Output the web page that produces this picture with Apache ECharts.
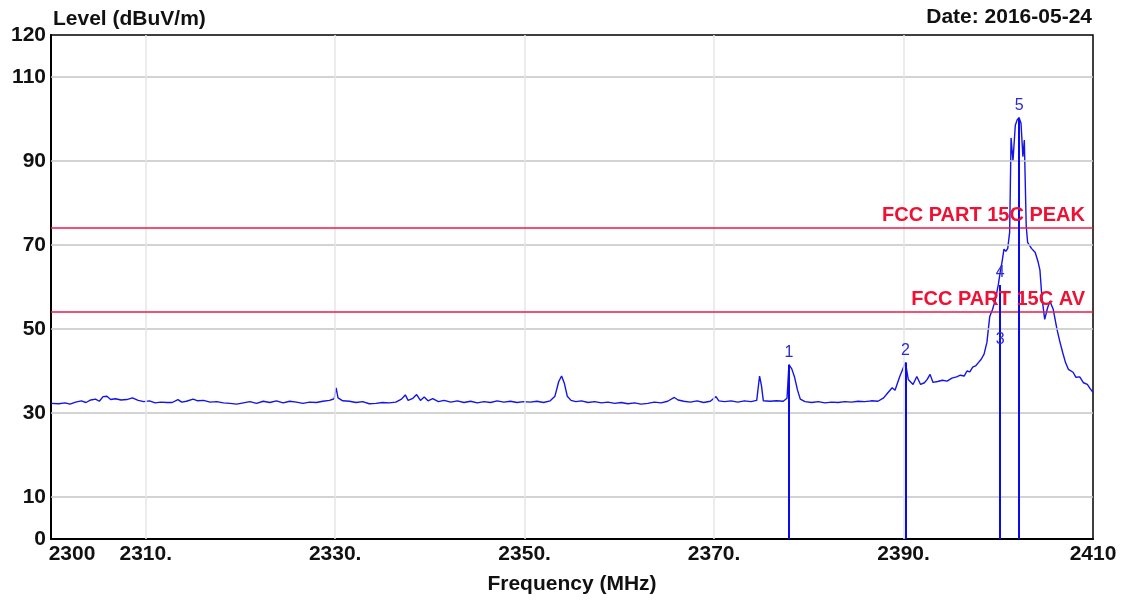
<!DOCTYPE html>
<html>
<head>
<meta charset="utf-8">
<script src="https://cdn.jsdelivr.net/npm/echarts@6/dist/echarts.min.js"></script>
<style>
html,body{margin:0;padding:0;background:#fff;}
#chart{width:1121px;height:600px;}
</style>
</head>
<body>
<div id="chart"></div>
<script>
// Spectrum trace (MHz, dBuV/m)
const freq = [
2300.0,2300.8,2301.5,2302.0,2302.6,2303.2,2303.7,2304.2,2304.7,2305.1,2305.5,2305.9,2306.3,2306.8,2307.4,2308.0,2308.6,2309.2,2309.8,2310.4,
2311.0,2311.6,2312.2,2312.8,2313.4,2313.8,2314.3,2315.0,2315.5,2316.1,2316.8,2317.5,2318.2,2318.9,2319.6,2320.3,2321.0,2321.7,2322.4,2323.1,
2323.8,2324.5,2325.2,2325.9,2326.6,2327.3,2328.0,2328.7,2329.4,2329.9,2330.1,2330.3,2330.8,2331.5,2332.2,2332.9,2333.6,2334.3,2335.0,2335.7,
2336.4,2337.0,2337.4,2337.7,2338.2,2338.6,2339.0,2339.4,2339.8,2340.3,2340.9,2341.5,2342.2,2342.9,2343.6,2344.3,2345.0,2345.7,2346.4,2347.1,
2347.8,2348.5,2349.2,2349.9,2350.6,2351.3,2352.0,2352.7,2353.2,2353.6,2353.9,2354.2,2354.5,2354.9,2355.4,2356.0,2356.7,2357.4,2358.1,2358.8,
2359.5,2360.2,2360.9,2361.6,2362.3,2363.0,2363.7,2364.4,2365.1,2365.8,2366.2,2366.8,2367.5,2368.2,2368.9,2369.6,2370.2,2370.5,2371.1,2371.8,
2372.5,2373.2,2373.9,2374.5,2374.8,2375.0,2375.2,2375.9,2376.6,2377.3,2377.7,2377.9,2378.2,2378.5,2378.8,2379.1,2379.6,2380.3,2381.0,2381.7,
2382.4,2383.1,2383.8,2384.5,2385.2,2385.9,2386.6,2387.3,2387.9,2388.3,2388.8,2389.1,2389.6,2390.2,2390.5,2391.0,2391.4,2391.8,2392.2,2392.5,
2392.8,2393.1,2393.6,2394.1,2394.6,2395.1,2395.6,2396.0,2396.4,2396.7,2397.0,2397.3,2397.6,2397.9,2398.2,2398.5,2398.8,2399.1,2399.4,2399.7,
2400.0,2400.2,2400.4,2400.6,2400.8,2401.0,2401.2,2401.35,2401.55,2401.8,2402.0,2402.2,2402.4,2402.6,2402.75,2402.95,2403.1,2403.5,2403.9,2404.2,
2404.4,2404.6,2404.9,2405.2,2405.45,2405.8,2406.2,2406.5,2406.8,2407.1,2407.4,2407.9,2408.2,2408.6,2409.0,2409.4,2409.7,2410.0
];
const level = [
32.3,32.2,32.4,32.1,32.6,32.9,32.5,33.1,33.3,32.8,33.9,34.0,33.2,33.4,33.1,33.2,33.6,33.0,32.7,32.9,
32.4,32.6,32.5,32.5,33.2,32.6,32.8,33.3,32.9,33.0,32.6,32.7,32.4,32.3,32.1,32.4,32.7,32.3,32.8,32.5,
32.9,32.4,32.8,32.6,32.3,32.6,32.5,32.8,33.0,33.4,36.0,33.6,32.9,32.8,32.5,32.7,32.2,32.3,32.5,32.4,
32.6,33.3,34.3,33.0,33.5,34.4,33.0,33.8,32.9,33.4,32.7,33.0,32.6,32.9,32.5,32.8,32.4,32.7,32.5,32.9,
32.6,32.8,32.5,32.7,32.6,32.8,32.5,32.9,34.0,37.5,38.8,37.0,34.0,33.0,32.7,32.9,32.5,32.7,32.4,32.6,
32.3,32.5,32.2,32.4,32.1,32.3,32.6,32.4,32.8,33.7,33.1,32.8,32.6,32.9,32.5,32.8,33.9,32.9,32.7,32.9,
32.6,32.9,32.7,33.0,38.8,36.5,32.9,32.8,32.9,32.8,33.5,41.5,40.5,38.5,35.5,33.3,32.7,32.5,32.7,32.4,
32.6,32.5,32.7,32.6,32.8,32.7,32.9,32.8,33.6,34.7,36.0,35.4,38.7,42.0,38.0,36.8,38.7,36.8,37.2,38.0,
39.2,37.3,37.5,37.8,37.6,38.3,38.6,39.0,38.8,40.0,39.8,40.9,41.2,42.0,42.8,44.0,46.8,53.0,54.7,57.0,
60.5,63.5,66.0,69.0,68.5,69.2,73.0,95.5,90.0,98.5,99.8,100.3,99.0,91.0,95.0,74.5,70.6,69.2,68.2,66.0,
64.0,57.7,52.3,55.0,56.6,54.7,49.9,47.0,44.4,42.0,40.4,39.7,38.5,38.6,37.2,36.8,35.8,34.9
];

// Markers
const markerNames = ['1','2','3','4','5'];
const markerFreq = [2377.9, 2390.2, 2400.2, 2400.2, 2402.2];
const markerLevel = [41.5, 42.0, 44.7, 60.5, 100.3];

// Limit lines
const limitNames = ['FCC PART 15C PEAK', 'FCC PART 15C AV'];
const limitValues = [74, 54];

// Axis ticks & grid
const xTickValues = [2300, 2310, 2330, 2350, 2370, 2390, 2410];
const xTickTexts = ['2300', '2310.', '2330.', '2350.', '2370.', '2390.', '2410'];
const yTickValues = [0, 10, 30, 50, 70, 90, 110, 120];
const yGridValues = [10, 30, 50, 70, 90, 110];
const xGridValues = [2310, 2330, 2350, 2370, 2390];

const FONT = '"Liberation Sans", Arial, sans-serif';

const chart = echarts.init(document.getElementById('chart'), null, {renderer: 'canvas'});

const traceData = freq.map((f, i) => [f, level[i]]);

const markerLines = markerNames.map((n, i) => [
  {coord: [markerFreq[i], 0], name: n},
  {coord: [markerFreq[i], markerLevel[i]]}
]);

const limitLines = limitNames.map((n, i) => ({yAxis: limitValues[i], name: n}));

const gridLinesH = yGridValues.map(v => ({yAxis: v}));
const gridLinesV = xGridValues.map(v => ({xAxis: v}));

chart.setOption({
  backgroundColor: '#ffffff',
  animation: false,
  title: [
    {text: 'Level (dBuV/m)', left: 48, top: 4,
     textStyle: {fontFamily: FONT, fontWeight: 'bold', fontSize: 21, color: '#111'}},
    {text: 'Date: 2016-05-24', right: 24, top: 2,
     textStyle: {fontFamily: FONT, fontWeight: 'bold', fontSize: 21, color: '#111'}}
  ],
  grid: {left: 51, right: 28, top: 35, bottom: 60, show: true,
         borderColor: '#000', borderWidth: 1.5, backgroundColor: 'transparent'},
  xAxis: {
    type: 'value', min: 2300, max: 2410, interval: 10,
    name: 'Frequency (MHz)', nameLocation: 'middle', nameGap: 35,
    nameTextStyle: {fontFamily: FONT, fontWeight: 'bold', fontSize: 21, color: '#111'},
    axisLine: {show: true, lineStyle: {color: '#000', width: 2}},
    axisTick: {show: false},
    splitLine: {show: false},
    axisLabel: {
      margin: 5, fontFamily: FONT, fontWeight: 'bold', fontSize: 21, color: '#111',
      formatter: function (v) {
        const idx = xTickValues.indexOf(Math.round(v));
        if (idx < 0) return '';
        if (idx === 0) return '{l|' + xTickTexts[idx] + '}';
        return xTickTexts[idx];
      },
      rich: {l: {fontFamily: FONT, fontWeight: 'bold', fontSize: 21, color: '#111', padding: [0, 0, 0, 42]}}
    }
  },
  yAxis: {
    type: 'value', min: 0, max: 120, interval: 10,
    axisLine: {show: true, lineStyle: {color: '#000', width: 2}},
    axisTick: {show: false},
    splitLine: {show: false},
    axisLabel: {
      margin: 5, fontFamily: FONT, fontWeight: 'bold', fontSize: 21, color: '#111',
      formatter: function (v) {
        return yTickValues.indexOf(Math.round(v)) >= 0 ? String(v) : '';
      }
    }
  },
  series: [
    {
      type: 'line', data: [], silent: true, z: 1,
      markLine: {
        silent: true, symbol: ['none', 'none'], animation: false,
        label: {show: false},
        data: gridLinesH.map(d => Object.assign({}, d, {lineStyle: {color: '#c4c4c4', width: 1.5, type: 'solid'}}))
          .concat(gridLinesV.map(d => Object.assign({}, d, {lineStyle: {color: '#e6e6e6', width: 1.5, type: 'solid'}})))
      }
    },
    {
      type: 'line', data: [], silent: true, z: 2,
      markLine: {
        silent: true, symbol: ['none', 'none'], animation: false,
        lineStyle: {color: '#ee1847', width: 1.5, type: 'solid'},
        label: {show: true, position: 'insideEndTop', formatter: '{b}', distance: [8, 3],
                fontFamily: FONT, fontWeight: 'bold', fontSize: 20, color: '#ee1133'},
        data: limitLines
      }
    },
    {
      type: 'line', data: traceData, showSymbol: false, z: 3,
      lineStyle: {color: '#1414e6', width: 1.4},
      markLine: {
        silent: true, symbol: ['none', 'none'], animation: false,
        lineStyle: {color: '#0a0aee', width: 2, type: 'solid'},
        label: {show: true, position: 'end', formatter: '{b}', distance: 4,
                fontFamily: FONT, fontSize: 16, color: '#2a2ad0'},
        data: markerLines
      }
    }
  ]
});
</script>
</body>
</html>
